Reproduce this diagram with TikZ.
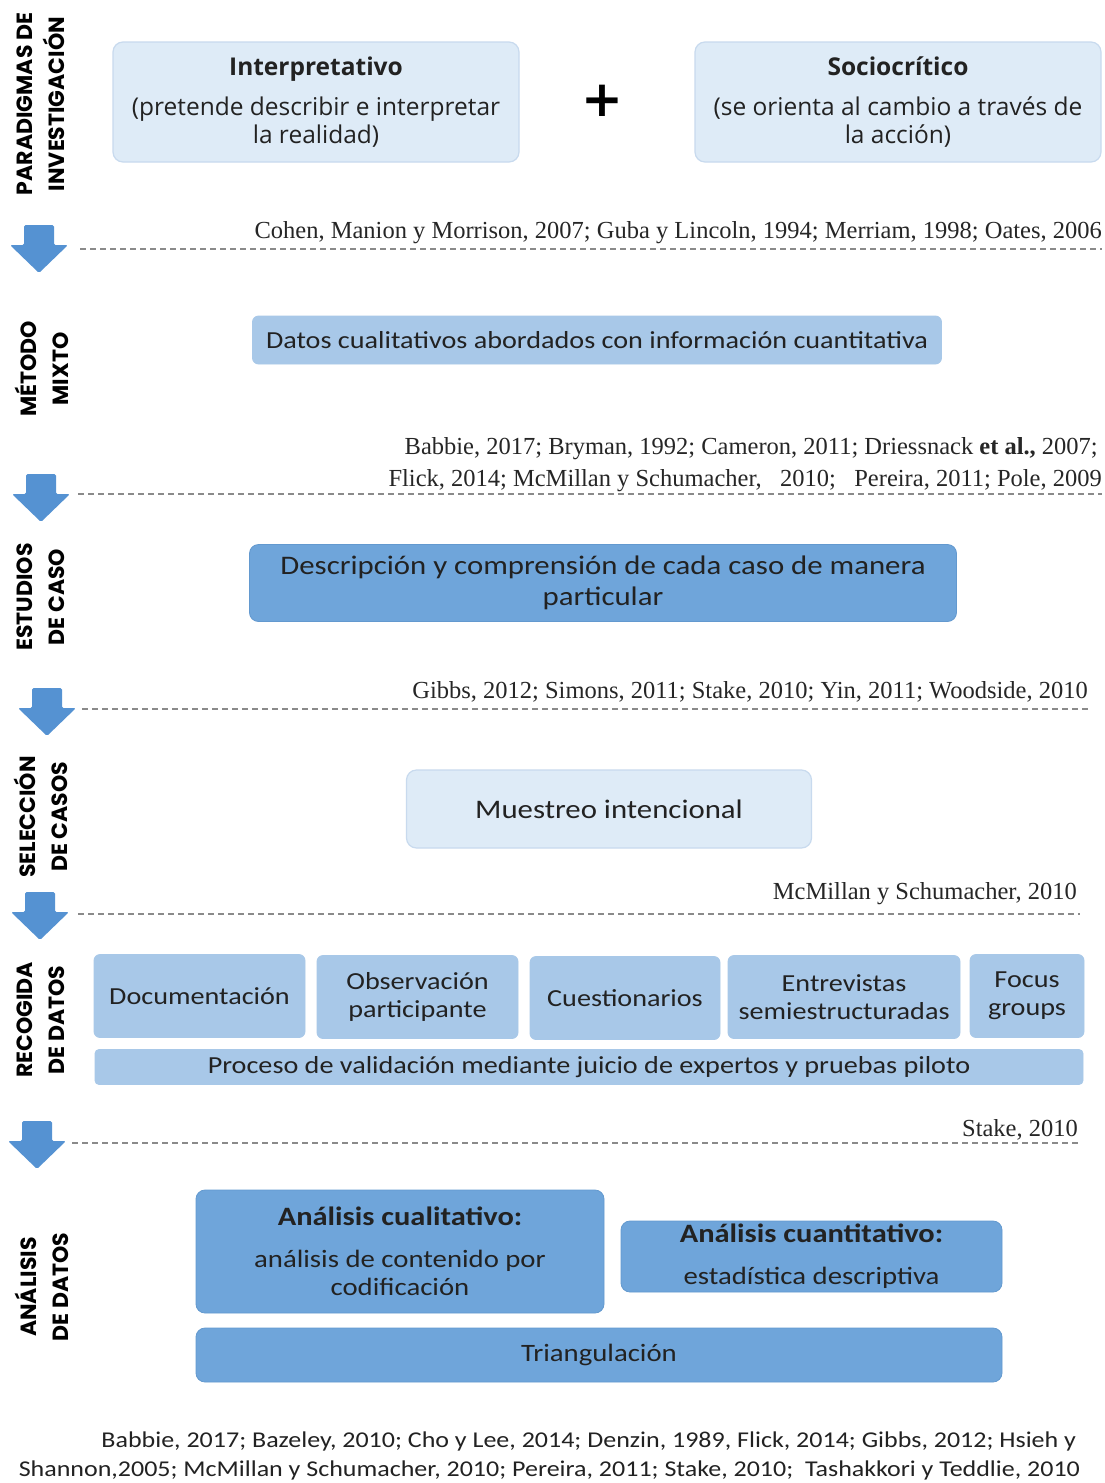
\documentclass[tikz,border=0pt]{standalone}
\usepackage{fontspec}
\setmainfont{Liberation Serif}
\newfontfamily\boxfont[FakeStretch=1.15]{Carlito}
\newfontfamily\headfont{Open Sans}
\newfontfamily\sidefont{Poppins}
\newfontfamily\plusfont{DejaVu Sans}
\newcommand\fsz[2]{\fontsize{#1}{#2}\selectfont}

\definecolor{lightfill}{HTML}{DEEBF7}
\definecolor{lightedge}{HTML}{C8DAEE}
\definecolor{midfill}{HTML}{A8C8E8}
\definecolor{darkfill}{HTML}{6FA5DA}
\definecolor{darkedge}{HTML}{6399CF}
\definecolor{arrowblue}{HTML}{5592D2}
\definecolor{dashgray}{HTML}{8A8A8A}
\definecolor{txt}{HTML}{222222}

\begin{document}
\begin{tikzpicture}[x=1pt,y=-1pt,
  every node/.style={text=txt, inner sep=0pt},
  basebox/.style={align=center, font=\boxfont},
  lightbox/.style={basebox, fill=lightfill, draw=lightedge, line width=1.2pt, rounded corners=10pt},
  midbox/.style={basebox, fill=midfill, draw=midfill, line width=0.8pt, rounded corners=6pt},
  darkbox/.style={basebox, fill=darkfill, draw=darkedge, line width=0.8pt, rounded corners=9pt},
  sidelabel/.style={rotate=90, align=center, font=\sidefont\bfseries\fsz{22}{32}, text=black},
  reftext/.style={anchor=base east, font=\fsz{24.5}{28}, text=black!85},
  dashline/.style={dashgray, line width=1.1pt, dash pattern=on 6pt off 4pt},
  downarrow/.pic={\fill[arrowblue, rounded corners=1.5pt] (-15,0) -- (15,0) -- (15,20) -- (29,20) -- (0,48) -- (-29,20) -- (-15,20) -- cycle;}
]
\useasboundingbox (0,0) rectangle (1104,1483);
\fill[white] (0,0) rectangle (1104,1483);

% ---- section labels (rotated)
\node[sidelabel] (lab1) at (41,104) {PARADIGMAS DE\\INVESTIGACIÓN};
\node[sidelabel] (lab2) at (42,369) {MÉTODO\\MIXTO};
\node[sidelabel] (lab3) at (41,597) {ESTUDIOS\\DE CASO};
\node[sidelabel] (lab4) at (41,817) {SELECCIÓN\\DE CASOS};
\node[sidelabel] (lab5) at (41,1020) {RECOGIDA\\DE DATOS};
\node[sidelabel] (lab6) at (42,1287) {ANÁLISIS\\DE DATOS};

% ---- paradigms
\node[lightbox, font=\headfont\fsz{24.5}{28}, minimum width=406pt, minimum height=120pt] (interp) at (316,102)
  {{\bfseries Interpretativo}\\[12pt](pretende describir e interpretar\\la realidad)};
\node[font=\plusfont\bfseries\fsz{50}{50}, text=black] (plus) at (602,101) {+};
\node[lightbox, font=\headfont\fsz{24.5}{28}, minimum width=406pt, minimum height=120pt] (socio) at (898,102)
  {{\bfseries Sociocrítico}\\[12pt](se orienta al cambio a través de\\la acción)};

\node[reftext] (ref1) at (1102,238) {Cohen, Manion y Morrison, 2007; Guba y Lincoln, 1994; Merriam, 1998; Oates, 2006};
\coordinate (d1a) at (80,249); \coordinate (d1b) at (1102,249);
\draw[dashline] (d1a) -- (d1b);
\pic at (39,225) {downarrow};

% ---- mixed method
\node[midbox, font=\boxfont\fsz{24.5}{28}, minimum width=689pt, minimum height=48pt] (mixto) at (597,340)
  {Datos cualitativos abordados con información cuantitativa};

\node[reftext] (ref2a) at (1098,454) {Babbie, 2017; Bryman, 1992; Cameron, 2011; Driessnack \textbf{et al.,} 2007;};
\node[reftext] (ref2b) at (1102,486) {Flick, 2014; McMillan y Schumacher,\ \ \ 2010;\ \ \ Pereira, 2011; Pole, 2009};
\coordinate (d2a) at (78,494); \coordinate (d2b) at (1102,494);
\draw[dashline] (d2a) -- (d2b);
\pic at (41,474) {downarrow};

% ---- case studies
\node[darkbox, font=\boxfont\fsz{26.8}{31}, minimum width=707pt, minimum height=77pt] (caso) at (603,583)
  {Descripción y comprensión de cada caso de manera\\particular};

\node[reftext] (ref3) at (1088,698) {Gibbs, 2012; Simons, 2011; Stake, 2010; Yin, 2011; Woodside, 2010};
\coordinate (d3a) at (82,709); \coordinate (d3b) at (1088,709);
\draw[dashline] (d3a) -- (d3b);
\pic at (47,688) {downarrow};

% ---- case selection
\node[lightbox, font=\boxfont\fsz{26.8}{31}, minimum width=405pt, minimum height=78pt] (muestreo) at (609,809)
  {Muestreo intencional};

\node[reftext] (ref4) at (1077,899) {McMillan y Schumacher, 2010};
\coordinate (d4a) at (78,914); \coordinate (d4b) at (1080,914);
\draw[dashline] (d4a) -- (d4b);
\pic at (40,892) {downarrow};

% ---- data collection
\begin{scope}[every node/.append style={midbox, font=\boxfont\fsz{24.5}{28}, minimum height=83pt}]
  \node[minimum width=211pt] (doc) at (199.5,996) {Documentación};
  \node[minimum width=201pt] (obs) at (417.5,997) {Observación\\participante};
  \node[minimum width=190pt] (cues) at (625,998) {Cuestionarios};
  \node[minimum width=232pt] (entr) at (844,997) {Entrevistas\\semiestructuradas};
  \node[minimum width=114pt] (focus) at (1027,996) {Focus\\groups};
  \node[minimum width=988pt, minimum height=35pt, rounded corners=4pt] (valid) at (589,1067)
    {Proceso de validación mediante juicio de expertos y pruebas piloto};
\end{scope}

\node[reftext] (ref5) at (1078,1136) {Stake, 2010};
\coordinate (d5a) at (72,1143); \coordinate (d5b) at (1078,1143);
\draw[dashline] (d5a) -- (d5b);
\pic at (37,1121) {downarrow};

% ---- data analysis
\node[darkbox, font=\boxfont\fsz{25}{28}, minimum width=408pt, minimum height=123pt] (cual) at (400,1251.5)
  {{\bfseries\fsz{26.5}{28}Análisis cualitativo:}\\[14pt]análisis de contenido por\\codificación};
\node[darkbox, font=\boxfont\fsz{25}{28}, minimum width=381pt, minimum height=71pt] (cuant) at (811.5,1256.5)
  {{\bfseries\fsz{26.5}{28}Análisis cuantitativo:}\\[14pt]estadística descriptiva};
\node[darkbox, font=\boxfont\fsz{25}{28}, minimum width=806pt, minimum height=54pt] (triang) at (599,1355)
  {Triangulación};

\node[anchor=base east, font=\boxfont\fsz{22.6}{28}] (ref6a) at (1076,1447)
  {Babbie, 2017; Bazeley, 2010; Cho y Lee, 2014; Denzin, 1989, Flick, 2014; Gibbs, 2012; Hsieh y};
\node[anchor=base east, font=\boxfont\fsz{22.6}{28}] (ref6b) at (1080,1476)
  {Shannon,2005; McMillan y Schumacher, 2010; Pereira, 2011; Stake, 2010;\ \ Tashakkori y Teddlie, 2010};
\end{tikzpicture}
\end{document}
